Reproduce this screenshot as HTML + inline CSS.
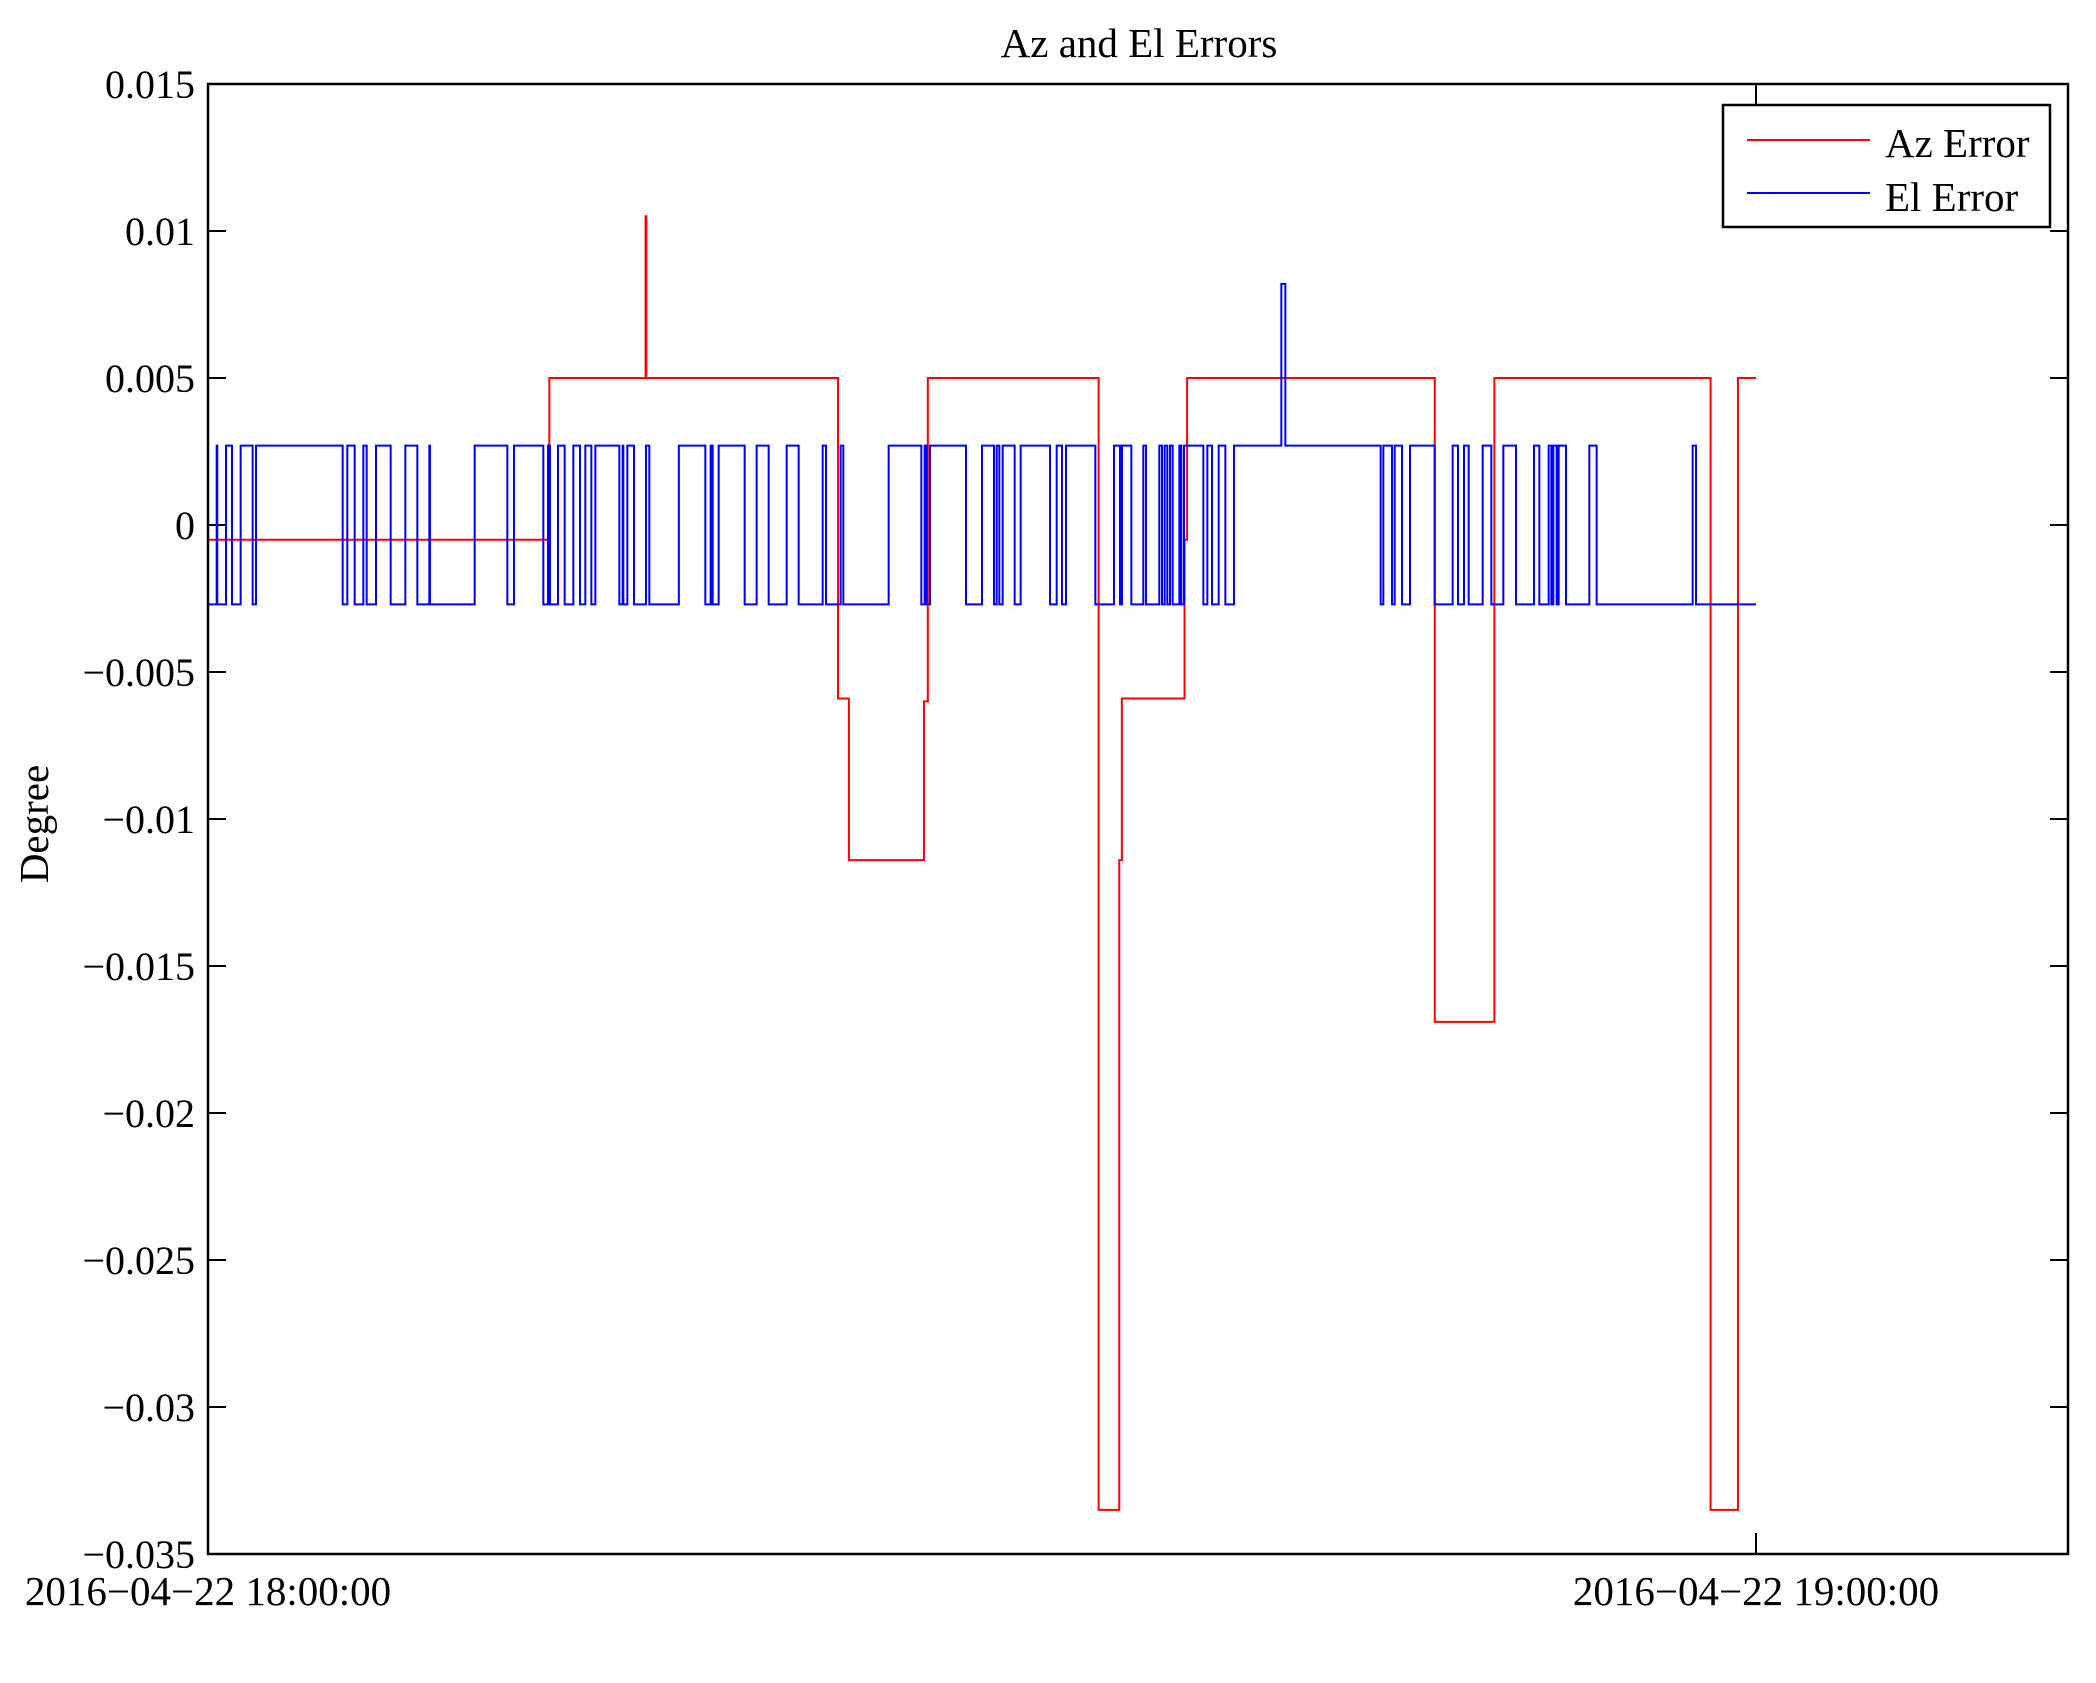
<!DOCTYPE html>
<html><head><meta charset="utf-8"><title>Az and El Errors</title>
<style>
html,body{margin:0;padding:0;background:#fff;}
svg{display:block;font-family:"Liberation Serif","DejaVu Serif",serif;}
</style></head>
<body>
<svg id="chart" width="2096" height="1683" viewBox="0 0 2096 1683" xmlns="http://www.w3.org/2000/svg">
<rect x="0" y="0" width="2096" height="1683" fill="#fff"/>
<text x="1139" y="57" font-size="41" text-anchor="middle">Az and El Errors</text>
<text transform="translate(48,824) rotate(-90)" font-size="41" text-anchor="middle">Degree</text>
<g id="ticks"></g>
<g id="series"></g>
<rect x="208" y="84" width="1860" height="1470" fill="none" stroke="#000" stroke-width="2.5"/>
<g>
<rect x="1723" y="105" width="327" height="122" fill="#fff" stroke="#000" stroke-width="2.5"/>
<line x1="1747" y1="140" x2="1870" y2="140" stroke="#ff0000" stroke-width="2"/>
<text x="1885" y="157" font-size="41">Az Error</text>
<line x1="1747" y1="193" x2="1870" y2="193" stroke="#0000ff" stroke-width="2"/>
<text x="1885" y="211" font-size="41">El Error</text>
</g>
</svg>
<script>
const yTicks = [0.015, 0.01, 0.005, 0, -0.005, -0.01, -0.015, -0.02, -0.025, -0.03, -0.035];
const yTickLabels = ["0.015","0.01","0.005","0","\u22120.005","\u22120.01","\u22120.015","\u22120.02","\u22120.025","\u22120.03","\u22120.035"];
const xTicks = [0, 60];
const xTickLabels = ["2016\u221204\u221222 18:00:00","2016\u221204\u221222 19:00:00"];
// minutes after 18:00 where each step begins, and the value from then on
const azTimes = [0, 13.23, 16.96, 16.99, 24.42, 24.84, 27.75, 27.9, 34.52, 35.32, 35.42, 37.85, 37.95, 47.55, 49.86, 58.24, 59.3, 60];
const azValues = [-0.0005, 0.005, 0.0105, 0.005, -0.0059, -0.0114, -0.006, 0.005, -0.0335, -0.0114, -0.0059, -0.0005, 0.005, -0.0169, 0.005, -0.0335, 0.005, 0.005];
const elTimes = [0,0.336,0.36,0.698,0.93,1.266,1.731,1.86,5.22,5.40,5.685,6.021,6.15,6.512,7.08,7.649,8.114,8.579,8.605,10.336,11.602,11.86,12.997,13.178,13.256,13.566,13.824,14.16,14.419,14.625,14.858,15.013,15.943,16.072,16.098,16.253,16.512,16.977,17.106,18.25,19.276,19.483,19.561,19.793,20.801,21.266,21.731,22.429,22.894,23.824,23.953,24.522,24.625,26.382,27.649,27.778,27.855,27.984,29.38,30.0,30.465,30.569,30.672,30.801,31.266,31.499,32.636,32.894,33.101,33.256,34.393,35.116,35.349,35.426,35.788,36.253,36.357,36.873,36.977,37.08,37.183,37.287,37.39,37.649,37.726,37.829,38.579,38.734,38.915,39.173,39.432,39.767,41.602,41.757,45.452,45.555,45.891,45.995,46.28,46.589,47.545,48.243,48.45,48.682,48.863,49.406,49.742,50.207,50.698,51.395,51.602,51.964,52.067,52.145,52.274,52.352,52.636,53.54,53.824,57.545,57.674,60];
const elValues = [-0.0027,0.0027,-0.0027,0.0027,-0.0027,0.0027,-0.0027,0.0027,-0.0027,0.0027,-0.0027,0.0027,-0.0027,0.0027,-0.0027,0.0027,-0.0027,0.0027,-0.0027,0.0027,-0.0027,0.0027,-0.0027,0.0027,-0.0027,0.0027,-0.0027,0.0027,-0.0027,0.0027,-0.0027,0.0027,-0.0027,0.0027,-0.0027,0.0027,-0.0027,0.0027,-0.0027,0.0027,-0.0027,0.0027,-0.0027,0.0027,-0.0027,0.0027,-0.0027,0.0027,-0.0027,0.0027,-0.0027,0.0027,-0.0027,0.0027,-0.0027,0.0027,-0.0027,0.0027,-0.0027,0.0027,-0.0027,0.0027,-0.0027,0.0027,-0.0027,0.0027,-0.0027,0.0027,-0.0027,0.0027,-0.0027,0.0027,-0.0027,0.0027,-0.0027,0.0027,-0.0027,0.0027,-0.0027,0.0027,-0.0027,0.0027,-0.0027,0.0027,-0.0027,0.0027,-0.0027,0.0027,-0.0027,0.0027,-0.0027,0.0027,0.0082,0.0027,-0.0027,0.0027,-0.0027,0.0027,-0.0027,0.0027,-0.0027,0.0027,-0.0027,0.0027,-0.0027,0.0027,-0.0027,0.0027,-0.0027,0.0027,-0.0027,0.0027,-0.0027,0.0027,-0.0027,0.0027,-0.0027,0.0027,-0.0027,0.0027,-0.0027,-0.0027];

const NS = "http://www.w3.org/2000/svg";
const X0 = 208, X60 = 1756, Y_TOP = 84, Y_BOT = 1554, YMAX = 0.015, YMIN = -0.035;
function xScale(m){ return X0 + (X60 - X0) * m / 60; }
function yScale(v){ return Y_TOP + (YMAX - v) / (YMAX - YMIN) * (Y_BOT - Y_TOP); }

const ticks = document.getElementById('ticks');
yTicks.forEach((v, i) => {
  const y = yScale(v);
  const t1 = document.createElementNS(NS, 'line');
  t1.setAttribute('x1', 208); t1.setAttribute('x2', 226); t1.setAttribute('y1', y); t1.setAttribute('y2', y);
  t1.setAttribute('stroke', '#000'); t1.setAttribute('stroke-width', '2');
  
  
  ticks.appendChild(t1);
  const t2 = document.createElementNS(NS, 'line');
  t2.setAttribute('x1', 2050); t2.setAttribute('x2', 2068); t2.setAttribute('y1', y); t2.setAttribute('y2', y);
  t2.setAttribute('stroke', '#000'); t2.setAttribute('stroke-width', '2');
  
  
  ticks.appendChild(t2);
  const lb = document.createElementNS(NS, 'text');
  lb.setAttribute('x', 195); lb.setAttribute('y', y + 14);
  lb.setAttribute('font-size', '40'); lb.setAttribute('text-anchor', 'end');
  lb.textContent = yTickLabels[i];
  
  
  ticks.appendChild(lb);
});
xTicks.forEach((m, i) => {
  const x = xScale(m);
  const t1 = document.createElementNS(NS, 'line');
  t1.setAttribute('x1', x); t1.setAttribute('x2', x); t1.setAttribute('y1', 1554); t1.setAttribute('y2', 1533);
  t1.setAttribute('stroke', '#000'); t1.setAttribute('stroke-width', '2');
  
  
  ticks.appendChild(t1);
  const t2 = document.createElementNS(NS, 'line');
  t2.setAttribute('x1', x); t2.setAttribute('x2', x); t2.setAttribute('y1', 84); t2.setAttribute('y2', 105);
  t2.setAttribute('stroke', '#000'); t2.setAttribute('stroke-width', '2');
  
  
  ticks.appendChild(t2);
  const lb = document.createElementNS(NS, 'text');
  lb.setAttribute('x', x); lb.setAttribute('y', 1605);
  lb.setAttribute('font-size', '41'); lb.setAttribute('text-anchor', 'middle');
  lb.textContent = xTickLabels[i];
  
  
  ticks.appendChild(lb);
});

function stepPath(ts, vs){
  let d = 'M' + xScale(ts[0]).toFixed(2) + ' ' + yScale(vs[0]).toFixed(2);
  for (let i = 1; i < ts.length; i++) {
    const x = xScale(ts[i]).toFixed(2);
    d += ' H' + x + ' V' + yScale(vs[i]).toFixed(2);
  }
  return d;
}
const series = document.getElementById('series');
const az = document.createElementNS(NS, 'path');
az.setAttribute('d', stepPath(azTimes, azValues));
az.setAttribute('fill', 'none'); az.setAttribute('stroke', '#ff0000'); az.setAttribute('stroke-width', '2');


series.appendChild(az);
const el = document.createElementNS(NS, 'path');
el.setAttribute('d', stepPath(elTimes, elValues));
el.setAttribute('fill', 'none'); el.setAttribute('stroke', '#0000ff'); el.setAttribute('stroke-width', '2');


series.appendChild(el);
</script>
</body></html>
